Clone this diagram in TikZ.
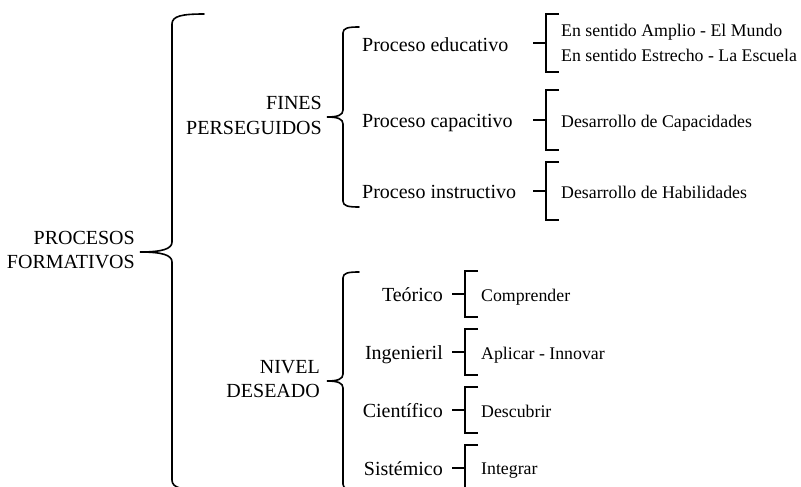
\documentclass[tikz,border=0pt]{standalone}
\usepackage{fontspec}
\setmainfont{Liberation Serif}
\usetikzlibrary{calc}
\tikzstyle{Big}=[font=\fontsize{20}{24.5}\selectfont,inner sep=0pt]
\tikzstyle{Small}=[font=\fontsize{17.8}{24.5}\selectfont,inner sep=0pt]
\tikzstyle{curly}=[line width=1.6pt,line cap=round]
\tikzstyle{bracket}=[line width=1.3pt]

\begin{document}
\begin{tikzpicture}[x=1pt,y=-1pt]
\clip (0,0) rectangle (801,487);

\node[Big,align=right,anchor=east] (PF) at (135,250){PROCESOS\\FORMATIVOS};
\node[Big,align=right,anchor=east] (FP) at (322,115.5){FINES\\PERSEGUIDOS};
\node[Big,align=right,anchor=east] (ND) at (320,379){NIVEL\\DESEADO};

\node[Big,anchor=base west] (PE) at (362,51.5){Proceso educativo};
\node[Big,anchor=base west] (PC) at (362,127.5){Proceso capacitivo};
\node[Big,anchor=base west] (PI) at (362,198.5){Proceso instructivo};

\node[Small,align=left,anchor=west] (SE) at (561,43){En sentido Amplio - El Mundo\\En sentido Estrecho - La Escuela};
\node[Small,anchor=base west] (DC) at (561,128){Desarrollo de Capacidades};
\node[Small,anchor=base west] (DH) at (561,198.5){Desarrollo de Habilidades};

\node[Big,anchor=base east] (TE) at (443,301){Teórico};
\node[Big,anchor=base east] (IN) at (443,359){Ingenieril};
\node[Big,anchor=base east] (CI) at (443,417){Científico};
\node[Big,anchor=base east] (SI) at (443,475){Sistémico};

\node[Small,anchor=base west] (CO) at (481,301){Comprender};
\node[Small,anchor=base west] (AI) at (481,359){Aplicar - Innovar};
\node[Small,anchor=base west] (DE) at (481,417){Descubrir};
\node[Small,anchor=base west] (IT) at (481,474.5){Integrar};

% curly braces
\draw[curly] (204,14) .. controls (182,14) and (172,16) .. (172,24) -- (172,242)
  .. controls (172,249) and (162,252) .. (140,252) .. controls (162,252) and (172,255) .. (172,262)
  -- (172,480) .. controls (172,488) and (182,490) .. (204,490);
\foreach \t/\m/\b in {27/117/207,272/381/490}
  \draw[curly] (359,\t) .. controls (348,\t) and (343,\t+1) .. (343,\t+6) -- (343,\m-7)
    .. controls (343,\m-2) and (338,\m) .. (327,\m) .. controls (338,\m) and (343,\m+2) .. (343,\m+7)
    -- (343,\b-6) .. controls (343,\b-1) and (348,\b) .. (359,\b);

% square brackets
\foreach \y/\h in {43/29,120/30,191/29}
  \draw[bracket] (533,\y) -- (546,\y) (559,\y-\h) -- (546,\y-\h) -- (546,\y+\h) -- (559,\y+\h);
\foreach \y in {294,352,410,468}
  \draw[bracket] (452,\y) -- (465,\y) (478,\y-23) -- (465,\y-23) -- (465,\y+23) -- (478,\y+23);

\end{tikzpicture}
\end{document}
